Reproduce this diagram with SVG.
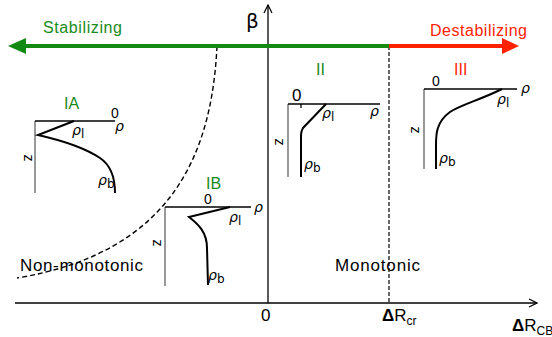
<svg xmlns="http://www.w3.org/2000/svg" width="552" height="337" viewBox="0 0 552 337">
<defs>
<marker id="ah" markerWidth="10" markerHeight="10" refX="9" refY="5" orient="auto" markerUnits="userSpaceOnUse"><path d="M1,1 L9,5 L1,9" fill="none" stroke="#000" stroke-width="1.2"/></marker>
<style>
text{font-family:"Liberation Sans",Arial,sans-serif;}
.ax{stroke:#000;stroke-width:1.3;fill:none}
.ia{stroke:#777;stroke-width:1.5;fill:none}
.ih{stroke:#000;stroke-width:1.3;fill:none}
.cv{stroke:#000;stroke-width:2;fill:none}
.t{font-size:17px;fill:#000}
.s{font-size:14px;fill:#000}
.g{fill:#1a8a1a;font-size:16px}
.r{fill:#ff2200;font-size:16px}
.gr{font-family:"DejaVu Sans",sans-serif;font-style:italic;font-size:14px;fill:#000}
.sub{font-size:12px;fill:#000}
</style>
</defs>
<g id="connectors">
<line class="ax" x1="15" y1="303" x2="537" y2="303" marker-end="url(#ah)"/>
<line class="ax" x1="268" y1="303" x2="268" y2="5" marker-end="url(#ah)"/>
<line x1="389" y1="46" x2="389" y2="303" stroke="#000" stroke-width="1.2" stroke-dasharray="4,2"/>
<path d="M217,46 C212,150 175,252 17,278" stroke="#000" stroke-width="1.4" fill="none" stroke-dasharray="5,3"/>
<line x1="24" y1="46" x2="389" y2="46" stroke="#138a13" stroke-width="4"/>
<path d="M8,46 L26,38 L26,54 Z" fill="#138a13"/>
<line x1="389" y1="46" x2="504" y2="46" stroke="#ff2200" stroke-width="4"/>
<path d="M519,46 L502,38 L502,54 Z" fill="#ff2200"/>
</g>
<g id="labels">
<text x="43" y="33" class="g" textLength="79">Stabilizing</text>
<text x="430" y="36" class="r" textLength="97">Destabilizing</text>
<text x="246" y="28" font-size="20" fill="#000" style="font-family:'DejaVu Sans',sans-serif">β</text>
<text x="20" y="271" class="t" textLength="123">Non-monotonic</text>
<text x="335" y="271" class="t" textLength="85">Monotonic</text>
<text x="261" y="321" class="t">0</text>
<text x="382" y="321" class="t"><tspan font-weight="bold">Δ</tspan>R<tspan class="sub" dy="4">cr</tspan></text>
<text x="512" y="331" class="t"><tspan font-weight="bold">Δ</tspan>R<tspan class="sub" dy="4">CB</tspan></text>
</g>
<g id="IA">
<text x="64" y="109" class="g">IA</text>
<line class="ia" x1="35" y1="121" x2="35" y2="193"/>
<line class="ih" x1="35" y1="121" x2="115" y2="121"/>
<text x="111" y="118" class="s">0</text>
<text x="115" y="131" class="gr">ρ</text>
<path class="cv" d="M74,121 L38,135 C60,140 85,148 100,158 C112,166 115,180 115,193"/>
<text x="72" y="135" class="gr">ρ<tspan class="sub" dy="3" font-style="normal">l</tspan></text>
<text x="98" y="185" class="gr">ρ<tspan class="sub" dy="3" font-style="normal">b</tspan></text>
<text x="24" y="158" class="s" transform="rotate(90 24 158)" text-anchor="middle">z</text>
</g>
<g id="IB">
<text x="206" y="189" class="g">IB</text>
<line class="ia" x1="165" y1="207" x2="165" y2="286"/>
<line class="ih" x1="165" y1="207" x2="251" y2="207"/>
<text x="204" y="204" class="s">0</text>
<text x="254" y="212" class="gr">ρ</text>
<path class="cv" d="M230,207 L189,217 C198,224 207,232 207,248 L208,285"/>
<text x="229" y="222" class="gr">ρ<tspan class="sub" dy="3" font-style="normal">l</tspan></text>
<text x="208" y="280" class="gr">ρ<tspan class="sub" dy="3" font-style="normal">b</tspan></text>
<text x="153" y="243" class="s" transform="rotate(90 153 243)" text-anchor="middle">z</text>
</g>
<g id="II">
<text x="316" y="75" class="g">II</text>
<line class="ia" x1="288" y1="104" x2="288" y2="177"/>
<line class="ih" x1="288" y1="104" x2="380" y2="104"/>
<line class="ih" x1="301" y1="104" x2="301" y2="108"/>
<text x="292" y="101" class="t" font-size="17">0</text>
<text x="370" y="116" class="gr">ρ</text>
<path class="cv" d="M326,104 L303,128 Q301,131 301,135 L301,177"/>
<text x="322" y="118" class="gr">ρ<tspan class="sub" dy="3" font-style="normal">l</tspan></text>
<text x="304" y="169" class="gr">ρ<tspan class="sub" dy="3" font-style="normal">b</tspan></text>
<text x="275" y="142" class="s" transform="rotate(90 275 142)" text-anchor="middle">z</text>
</g>
<g id="III">
<text x="454" y="75" class="r">III</text>
<line class="ia" x1="424" y1="89" x2="424" y2="169"/>
<line class="ih" x1="424" y1="89" x2="517" y2="89"/>
<text x="432" y="86" class="s">0</text>
<text x="521" y="93" class="gr">ρ</text>
<path class="cv" d="M502,89 C480,100 460,105 450,112 C436,122 436,135 436,145 L436,169"/>
<text x="497" y="104" class="gr">ρ<tspan class="sub" dy="3" font-style="normal">l</tspan></text>
<text x="439" y="163" class="gr">ρ<tspan class="sub" dy="3" font-style="normal">b</tspan></text>
<text x="411" y="130" class="s" transform="rotate(90 411 130)" text-anchor="middle">z</text>
</g>
</svg>
